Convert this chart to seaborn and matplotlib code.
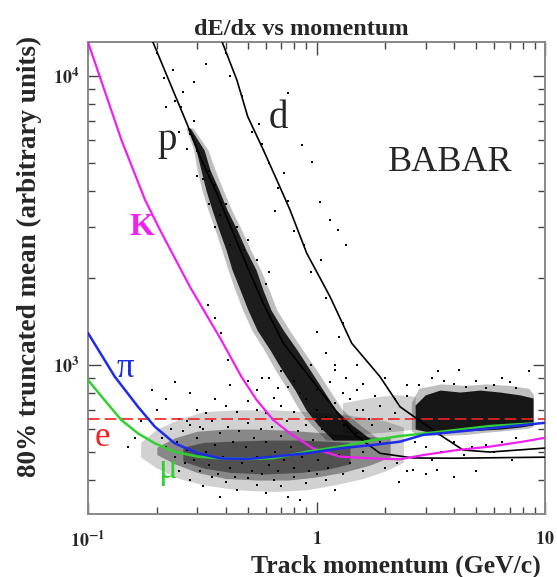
import matplotlib
matplotlib.use("Agg")
import matplotlib.pyplot as plt
import seaborn as sns
from matplotlib.ticker import FixedLocator, FixedFormatter, LogLocator, NullFormatter

# ---------------------------------------------------------------
# curves : momentum (GeV/c) -> 80% truncated mean
# ---------------------------------------------------------------
k_x  = [0.1, 0.1128, 0.14, 0.1777, 0.2066, 0.2795, 0.383, 0.469, 0.547, 0.647, 0.766, 0.965, 1.267, 1.767, 2.32, 2.925, 4.12, 5.74, 8.0, 10]
k_y  = [13080, 9900, 6005, 3724, 2931, 1862, 1220, 911, 757, 645, 580, 515, 482, 475, 472, 488, 508, 522, 543, 560]

pi_x = [0.1, 0.131, 0.1655, 0.196, 0.2395, 0.303, 0.382, 0.501, 0.645, 0.906, 1.267, 1.767, 2.32, 2.925, 4.12, 5.74, 8.01, 10]
pi_y = [1290, 911, 717, 612, 536, 495, 475, 473, 482, 495, 515, 529, 543, 573, 588, 604, 620, 631]

mu_x = [0.1, 0.118, 0.140, 0.1655, 0.196, 0.2395, 0.303, 0.382, 0.501, 0.645, 0.906, 1.267, 1.767, 2.32, 3.37, 5.74, 8.8]
mu_y = [887, 757, 645, 580, 536, 501, 482, 475, 473, 476, 501, 522, 550, 568, 586, 615, 628]

p_x  = [0.19, 0.2285, 0.2704, 0.309, 0.366, 0.4325, 0.512, 0.585, 0.716, 0.906, 1.146, 1.449, 1.896, 2.645, 4.0, 10]
p_y  = [13400, 9435, 6860, 5258, 3926, 2856, 2076, 1635, 1189, 936, 737, 580, 495, 477, 476, 480]

d_x  = [0.382, 0.448, 0.5, 0.585, 0.67, 0.766, 0.906, 1.146, 1.426, 1.896, 2.32, 3.37, 4.38, 5.74, 10]
d_y  = [13400, 9685, 7228, 5546, 4365, 3435, 2435, 1723, 1189, 911, 717, 582, 508, 500, 516]

e_x  = [0.1, 10]
e_y  = [650, 650]

# ---------------------------------------------------------------
# dense track populations (outlines)
# ---------------------------------------------------------------
band_y   = [6600, 5545, 4727, 4033, 3439, 2932, 2500, 2132, 1817, 1550, 1322, 1127, 961, 819, 699, 620, 550]
band_lo  = [0.272, 0.297, 0.312, 0.328, 0.349, 0.374, 0.402, 0.427, 0.463, 0.501, 0.549, 0.626, 0.706, 0.805, 0.900, 1.015, 1.181]
band_hi  = [0.280, 0.322, 0.342, 0.374, 0.406, 0.449, 0.491, 0.544, 0.583, 0.632, 0.714, 0.822, 0.937, 1.068, 1.217, 1.430, 1.750]
halo_lo  = [0.268, 0.29, 0.30, 0.315, 0.335, 0.36, 0.385, 0.41, 0.44, 0.475, 0.52, 0.59, 0.66, 0.75, 0.84, 0.95, 1.1]
halo_hi  = [0.288, 0.335, 0.36, 0.39, 0.425, 0.47, 0.515, 0.57, 0.62, 0.67, 0.76, 0.87, 1.0, 1.14, 1.3, 1.55, 1.9]

mip_x    = [0.17, 0.2, 0.25, 0.32, 0.45, 0.65, 0.9, 1.2, 1.6, 2.0, 2.4]
mip_hi   = [540, 600, 650, 690, 700, 700, 690, 680, 660, 640, 610]
mip_lo   = [480, 440, 405, 385, 370, 365, 370, 385, 405, 430, 460]

core_x   = [0.2, 0.24, 0.3, 0.4, 0.55, 0.75, 1.0, 1.3, 1.7, 2.1]
core_hi  = [520, 560, 590, 600, 600, 595, 585, 575, 565, 560]
core_lo  = [490, 455, 425, 405, 400, 400, 410, 425, 450, 480]

inner_x  = [0.26, 0.32, 0.42, 0.6, 0.85, 1.1, 1.4]
inner_hi = [520, 540, 545, 550, 550, 545, 540]
inner_lo = [465, 440, 425, 420, 425, 435, 455]

mid_x    = [1.3, 1.7, 2.2, 2.7]
mid_hi   = [740, 770, 790, 780]
mid_lo   = [580, 580, 590, 600]

glow_x   = [2.6, 2.8, 3.5, 4.5, 5.5, 7.0, 8.5, 8.9]
glow_hi  = [740, 830, 860, 850, 860, 850, 830, 790]
glow_lo  = [590, 575, 570, 575, 585, 595, 605, 615]

blob_x   = [2.70, 2.99, 3.47, 4.25, 5.19, 6.36, 7.77, 8.86]
blob_hi  = [727, 788, 819, 806, 819, 806, 788, 769]
blob_lo  = [600, 590, 585, 590, 595, 600, 610, 620]

# single tracks
pts_x = [0.20, 0.215, 0.235, 0.24, 0.255, 0.26, 0.28, 0.29, 0.30, 0.25, 0.22, 0.27, 0.32, 0.34, 0.36, 0.30,
         0.38, 0.40, 0.34, 0.42, 0.45, 0.48, 0.55, 0.50, 0.60, 0.62, 0.36, 0.29, 0.33,
         0.40, 0.42, 0.47, 0.52, 0.56, 0.62, 0.68, 0.66, 0.75, 0.80, 0.88, 0.95, 1.05, 1.10, 1.30, 1.25, 0.58, 0.72,
         0.75, 0.86, 0.96, 1.04, 1.14, 1.24, 1.34,
         0.335, 0.382, 0.41, 0.36,
         0.20, 0.22, 0.25, 0.28, 0.30, 0.33, 0.36, 0.40, 0.45, 0.50, 0.55, 0.60, 0.65, 0.70, 0.80, 0.90, 1.0, 1.1,
         1.2, 1.3, 1.5, 1.7, 1.9, 2.2, 0.17, 0.19, 0.24, 0.42, 0.58, 0.75, 1.6, 2.0, 2.5,
         0.25, 0.28, 0.32, 0.35, 0.40, 0.45, 0.50, 0.55, 0.60, 0.65, 0.70, 0.80, 0.90, 1.0, 1.1, 1.3, 1.6, 2.0,
         2.5, 0.38, 0.75, 1.2, 3.0, 4.0, 5.0, 0.85, 2.25, 2.64, 3.37, 2.3, 7.2,
         2.8, 3.2, 3.6, 4.0, 4.5, 5.0, 5.5, 6.0, 7.0, 3.4, 4.2, 2.5, 2.2, 7.5, 8.5, 6.5,
         3.0, 3.5, 4.0, 4.8, 5.5, 6.5, 7.5, 2.7, 3.2, 4.4, 6.0,
         0.5, 0.55, 0.62, 0.68, 0.70, 0.80, 0.85, 1.0, 1.15, 1.4, 1.5, 1.8, 1.6, 0.95, 1.2,
         1.0, 1.1, 1.2, 1.35, 1.5, 0.16, 0.15, 0.23, 0.27, 0.31,
         0.21, 0.22, 0.23, 0.24, 0.245, 0.26, 0.265, 0.27, 0.28, 0.29, 0.30, 0.31, 0.32, 0.33, 0.34, 0.35,
         0.36, 0.37, 0.38, 0.39, 0.41, 0.42, 0.43, 0.44, 0.46, 0.47, 0.49, 0.50, 0.52, 0.53, 0.55, 0.57,
         0.58, 0.60, 0.62, 0.64, 0.66, 0.68, 0.70, 0.72, 0.74, 0.77, 0.80, 0.83, 0.86, 0.90, 0.93, 0.97,
         1.02, 1.06, 1.12, 1.18, 1.25, 1.32, 1.40, 1.50, 1.60, 1.75, 1.90, 2.10]
pts_y = [12000, 9800, 10500, 8200, 7800, 8800, 6300, 7000, 5500, 6400, 7800, 5600, 4400, 4700, 4200, 4500,
         3300, 3600, 3600, 2600, 3000, 2500, 2300, 2700, 1900, 2100, 3000, 9500, 11000,
         12000, 10000, 8500, 6400, 6800, 5000, 4100, 3400, 3700, 2900, 2600, 2100, 2300, 1700, 1400, 1250, 5800, 4600,
         8700, 5770, 5040, 3660, 3170, 2930, 2600,
         1613, 1290, 1040, 1450,
         700, 760, 650, 800, 700, 680, 760, 720, 690, 750, 700, 680, 770, 720, 690, 760, 700, 660,
         740, 800, 700, 650, 720, 680, 640, 820, 870, 850, 900, 840, 860, 900, 850,
         430, 400, 380, 410, 395, 370, 405, 385, 360, 400, 380, 410, 390, 420, 400, 420, 430, 440,
         430, 350, 350, 370, 420, 410, 430, 340, 458, 433, 433, 394, 469,
         850, 900, 880, 860, 840, 880, 830, 850, 870, 950, 960, 780, 760, 830, 950, 900,
         520, 500, 540, 520, 530, 540, 560, 540, 470, 490, 500,
         880, 820, 900, 830, 950, 880, 800, 820, 870, 760, 820, 780, 700, 1000, 960,
         1300, 1100, 1000, 900, 1000, 560, 520, 600, 640, 610,
         560, 520, 600, 480, 540, 590, 460, 510, 620, 470, 560, 430, 600, 500, 450, 640,
         530, 420, 580, 480, 610, 440, 540, 410, 590, 460, 520, 630, 430, 560, 480, 600,
         420, 540, 450, 610, 500, 430, 570, 470, 640, 520, 440, 590, 480, 620, 430, 550,
         470, 600, 440, 560, 490, 620, 460, 580, 500, 620, 540, 600]

# ---------------------------------------------------------------
sns.set_style("ticks")
plt.rcParams["font.family"] = ["Liberation Serif", "DejaVu Serif"]
plt.rcParams["mathtext.fontset"] = "stix"

fig = plt.figure(figsize=(5.57, 5.77), dpi=100)
ax = fig.add_axes([0.158, 0.109, 0.8205, 0.818])
ax.set_xscale("log")
ax.set_yscale("log")

ax.fill_between(mip_x, mip_lo, mip_hi, color="black", lw=0, alpha=0.18, zorder=1)
ax.fill_between(core_x, core_lo, core_hi, color="black", lw=0, alpha=0.35, zorder=1)
ax.fill_between(inner_x, inner_lo, inner_hi, color="black", lw=0, alpha=0.4, zorder=1)
ax.fill_between(mid_x, mid_lo, mid_hi, color="black", lw=0, alpha=0.18, zorder=1)
ax.fill_between(glow_x, glow_lo, glow_hi, color="black", lw=0, alpha=0.25, zorder=1)
ax.fill_between(blob_x, blob_lo, blob_hi, color="black", lw=0, alpha=0.88, zorder=1)
ax.fill_betweenx(band_y, halo_lo, halo_hi, color="black", lw=0, alpha=0.25, zorder=1)
ax.fill_betweenx(band_y, band_lo, band_hi, color="black", lw=0, alpha=0.85, zorder=1)
sns.scatterplot(x=pts_x, y=pts_y, ax=ax, marker="s", s=4, color="black", linewidth=0, zorder=2)

sns.lineplot(x=e_x, y=e_y, ax=ax, color="#ee2222", lw=1.2, zorder=3).lines[-1].set_dashes([7, 3])
sns.lineplot(x=p_x, y=p_y, ax=ax, color="black", lw=1.2, sort=False, estimator=None, zorder=4)
sns.lineplot(x=d_x, y=d_y, ax=ax, color="black", lw=1.2, sort=False, estimator=None, zorder=4)
sns.lineplot(x=k_x, y=k_y, ax=ax, color="#f020f0", lw=1.6, sort=False, estimator=None, zorder=5)
sns.lineplot(x=mu_x, y=mu_y, ax=ax, color="#30d030", lw=1.8, sort=False, estimator=None, zorder=5)
sns.lineplot(x=pi_x, y=pi_y, ax=ax, color="#1c2ce8", lw=1.8, sort=False, estimator=None, zorder=6)

ax.set_xlim(0.1, 10)
ax.set_ylim(305, 13080)

# labels on the plot
tr = ax.transAxes
ax.text(0.173, 0.792, "p", transform=tr, fontsize=28, ha="center", va="center")
ax.text(0.416, 0.839, "d", transform=tr, fontsize=28, ha="center", va="center")
ax.text(0.792, 0.744, "BABAR", transform=tr, fontsize=26, ha="center", va="center")
ax.text(0.118, 0.608, "K", transform=tr, fontsize=23, ha="center", va="center", color="#f020f0", fontweight="bold")
ax.text(0.081, 0.309, "π", transform=tr, fontsize=25, ha="center", va="center", color="#1c2ce8")
ax.text(0.031, 0.163, "e", transform=tr, fontsize=25, ha="center", va="center", color="#ee2222")
ax.text(0.175, 0.095, "μ", transform=tr, fontsize=25, ha="center", va="center", color="#30d030")

# axes
ax.xaxis.set_major_locator(FixedLocator([0.1, 1, 10]))
ax.xaxis.set_major_formatter(FixedFormatter([r"$\mathbf{10^{-1}}$", r"$\mathbf{1}$", r"$\mathbf{10}$"]))
ax.yaxis.set_major_locator(FixedLocator([1000, 10000]))
ax.yaxis.set_major_formatter(FixedFormatter([r"$\mathbf{10^{3}}$", r"$\mathbf{10^{4}}$"]))
ax.xaxis.set_minor_locator(LogLocator(base=10, subs=range(2, 10)))
ax.yaxis.set_minor_locator(LogLocator(base=10, subs=range(2, 10)))
ax.xaxis.set_minor_formatter(NullFormatter())
ax.yaxis.set_minor_formatter(NullFormatter())
ax.tick_params(which="both", direction="in", top=True, right=True, color="#444444", width=1.0)
ax.tick_params(which="major", length=9, labelsize=13)
ax.tick_params(which="minor", length=5)
ax.tick_params(axis="x", pad=12)
ax.tick_params(axis="y", pad=6)
for s in ax.spines.values():
    s.set_color("#888888")
    s.set_linewidth(1.4)

ax.set_title("dE/dx vs momentum", fontsize=17.5, fontweight="bold", x=0.466, y=1.015, pad=0)
ax.set_xlabel("Track momentum (GeV/c)", fontsize=18.5, fontweight="bold", loc="right")
ax.xaxis.set_label_coords(0.99, -0.086)
ax.set_ylabel("80% truncated mean (arbitrary units)", fontsize=19.5, fontweight="bold")
ax.yaxis.set_label_coords(-0.10, 0.545)

fig.savefig("out.png", dpi=100)
